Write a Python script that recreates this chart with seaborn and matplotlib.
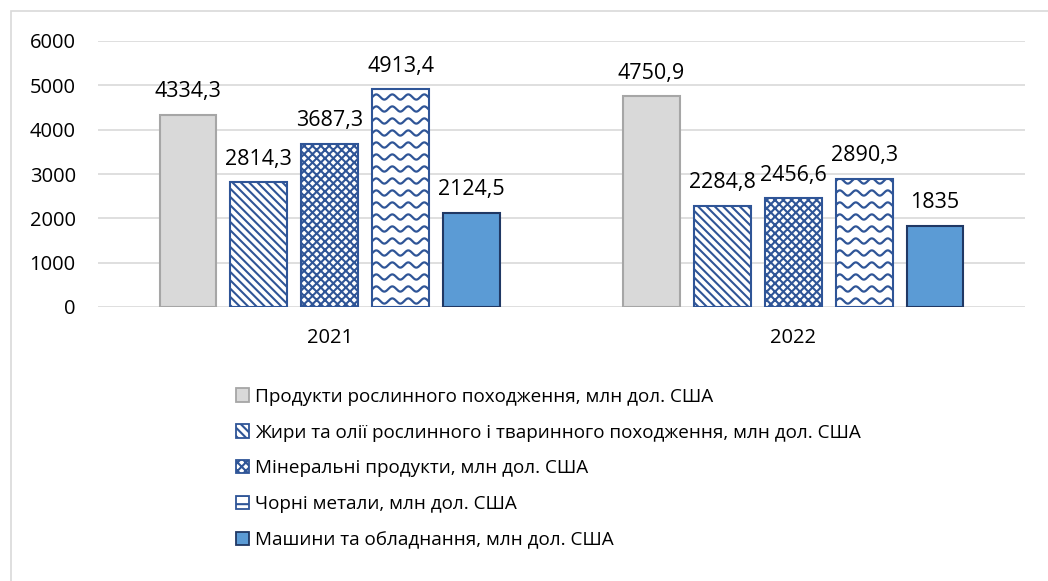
import numpy as np
import pandas as pd
import matplotlib
matplotlib.use('Agg')
import matplotlib.pyplot as plt
from matplotlib.patches import Rectangle, Patch
import seaborn as sns

# Data
years = ['2021', '2022']
series = [
    'Продукти рослинного походження, млн дол. США',
    'Жири та олії рослинного і тваринного походження, млн дол. США',
    'Мінеральні продукти, млн дол. США',
    'Чорні метали, млн дол. США',
    'Машини та обладнання, млн дол. США',
]
plant = [4334.3, 4750.9]
fats = [2814.3, 2284.8]
minerals = [3687.3, 2456.6]
metals = [4913.4, 2890.3]
machines = [2124.5, 1835]

values = [plant, fats, minerals, metals, machines]
rows = []
for name, vals in zip(series, values):
    for y, v in zip(years, vals):
        rows.append({'year': y, 'series': name, 'value': v})
df = pd.DataFrame(rows)

sns.set_theme(style='white')
plt.rcParams['font.family'] = ['Open Sans', 'DejaVu Sans']
plt.rcParams['text.color'] = 'black'
plt.rcParams['hatch.linewidth'] = 1.5

blue_edge = '#2F5597'
faces = ['#D9D9D9', 'white', 'white', 'white', '#5B9BD5']
edges = ['#A6A6A6', blue_edge, blue_edge, blue_edge, '#203864']
hatches = ['', '\\\\\\\\', 'xxxx', '', '']

fig = plt.figure(figsize=(10.48, 5.81), dpi=100)
ax = fig.add_axes([98 / 1048, 1 - 307 / 581, (1025 - 98) / 1048, (307 - 41) / 581])

sns.barplot(data=df, x='year', y='value', hue='series', hue_order=series,
            palette=dict(zip(series, faces)), width=0.765, gap=0.2,
            saturation=1, legend=False, ax=ax)

ax.set_ylim(0, 6000)
ax.set_xlim(-0.5, 1.5)
ax.set_yticks(range(0, 6001, 1000))
ax.grid(axis='y', color='#D9D9D9', linewidth=1.2)
ax.set_axisbelow(True)
for s in ax.spines.values():
    s.set_visible(False)
ax.tick_params(axis='both', length=0, labelsize=14.5, colors='black')
ax.tick_params(axis='y', pad=16)
ax.tick_params(axis='x', pad=15)
ax.set_xlabel('')
ax.set_ylabel('')

for i, cont in enumerate(ax.containers):
    for p in cont:
        p.set_facecolor(faces[i])
        p.set_edgecolor(edges[i])
        p.set_linewidth(1.5)
        p.set_hatch(hatches[i])
    labels = [f"{v:g}".replace('.', ',') for v in values[i]]
    ax.bar_label(cont, labels=labels, padding=9, fontsize=15.5, color='black')

# wavy pattern for the metals bars
fig.canvas.draw()
inv = ax.transData.inverted()
for p in ax.containers[3]:
    bb = p.get_window_extent()
    xs = np.linspace(bb.x0 - 5, bb.x1 + 5, 200)
    y = bb.y0 - 6
    while y < bb.y1 + 6:
        ys = y + 2.6 * np.sin((xs - bb.x0) * 2 * np.pi / 16.0)
        pts = inv.transform(np.column_stack([xs, ys]))
        ln, = ax.plot(pts[:, 0], pts[:, 1], color=blue_edge, lw=1.6, zorder=p.get_zorder() + 0.1)
        ln.set_clip_path(p)
        y += 12.0

# legend
handles = [Patch(facecolor=faces[i], edgecolor=edges[i], linewidth=1.3,
                 hatch=(hatches[i] if i != 3 else '--')) for i in range(5)]
fig.legend(handles, series, loc='upper left', bbox_to_anchor=(228 / 1048, 1 - 380 / 581),
           frameon=False, fontsize=13.6, handlelength=0.7, handleheight=0.7,
           handletextpad=0.35, labelspacing=0.95, borderaxespad=0)

# chart frame
fig.patches.append(Rectangle((11 / 1048, -0.1), 1.2, 1 - 11 / 581 + 0.1,
                             transform=fig.transFigure, fill=False,
                             edgecolor='#D9D9D9', linewidth=1.2))

fig.savefig('out.png', dpi=100)
